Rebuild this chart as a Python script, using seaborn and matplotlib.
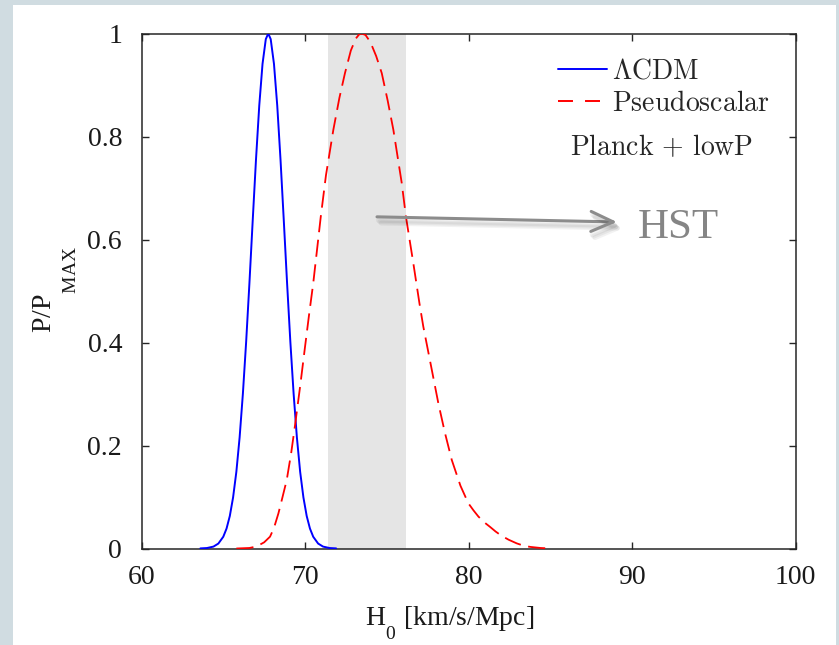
import numpy as np
import pandas as pd
import matplotlib
matplotlib.use("Agg")
import matplotlib.pyplot as plt
import matplotlib.patheffects as pe
from matplotlib.patches import Rectangle
from matplotlib.font_manager import FontProperties
import seaborn as sns

# ---------------- data ----------------
lcdm_h0 = [63.6, 64.0, 64.4, 64.7, 65.0, 65.2, 65.4, 65.6, 65.8, 66.0, 66.2, 66.4, 66.6,
           66.8, 67.0, 67.2, 67.4, 67.6, 67.75, 67.9, 68.1, 68.3, 68.5, 68.7, 68.9,
           69.1, 69.3, 69.5, 69.7, 69.9, 70.1, 70.3, 70.5, 70.8, 71.1, 71.5, 71.9]
lcdm_p = [0.0002, 0.0009, 0.0037, 0.0096, 0.0228, 0.0387, 0.0632, 0.0992, 0.149, 0.216,
          0.301, 0.402, 0.516, 0.637, 0.755, 0.860, 0.941, 0.989, 1.0, 0.989, 0.941,
          0.860, 0.755, 0.637, 0.516, 0.402, 0.301, 0.216, 0.149, 0.0992, 0.0632,
          0.0387, 0.0228, 0.0096, 0.0037, 0.0009, 0.0002]

ps_h0 = [65.8, 66.6, 67.04, 67.5, 67.86, 68.1, 68.37, 68.6, 68.88, 69.15, 69.39, 69.7,
         70.0, 70.25, 70.5, 70.75, 70.96, 71.28, 71.73, 72.1, 72.44, 72.8, 73.1, 73.3,
         73.46, 73.7, 74.0, 74.35, 74.69, 75.05, 75.4, 75.91, 76.17, 76.62, 77.0, 77.23,
         77.7, 78.15, 78.55, 78.97, 79.5, 79.98, 80.3, 80.6, 80.95, 81.31, 81.65, 82.0,
         82.45, 82.94, 83.4, 83.8, 84.4, 85.0]
ps_p = [0.0, 0.001, 0.004, 0.012, 0.023, 0.040, 0.068, 0.097, 0.133, 0.185, 0.240, 0.315,
        0.392, 0.455, 0.515, 0.585, 0.644, 0.725, 0.813, 0.875, 0.923, 0.967, 0.990, 0.998,
        1.0, 0.997, 0.983, 0.956, 0.923, 0.870, 0.813, 0.710, 0.644, 0.554, 0.475, 0.431,
        0.355, 0.282, 0.225, 0.172, 0.122, 0.088, 0.074, 0.062, 0.051, 0.042, 0.033, 0.025,
        0.017, 0.010, 0.005, 0.003, 0.001, 0.0]

hst_band = [71.4, 76.2]
series_labels = [r"$\Lambda\mathrm{CDM}$", r"$\mathrm{Pseudoscalar}$"]
note_text = r"$\mathrm{Planck}\,+\,\mathrm{lowP}$"
x_ticks = [60, 70, 80, 90, 100]
y_ticks = [0, 0.2, 0.4, 0.6, 0.8, 1.0]
y_tick_labels = ["0", "0.2", "0.4", "0.6", "0.8", "1"]

df_l = pd.DataFrame({"H0": lcdm_h0, "P": lcdm_p})
df_p = pd.DataFrame({"H0": ps_h0, "P": ps_p})

# deeper subscripts (MATLAB-like) for the axis labels
try:
    import matplotlib._mathtext as _mt
    _mt.ComputerModernFontConstants.sub1 = 1.1   # y label (cm math set)
    _mt.STIXFontConstants.sub1 = 1.2             # x label (stix math set)
except Exception:
    pass

# ---------------- style ----------------
sns.set_style("ticks")
plt.rcParams["font.family"] = ["Liberation Serif", "DejaVu Serif"]
plt.rcParams["mathtext.fontset"] = "cm"

fig = plt.figure(figsize=(8.39, 6.45), dpi=100, facecolor="#d0dce1")
fig.patches.append(Rectangle((13 / 839, 0), (835.7 - 13) / 839, 640 / 645,
                             transform=fig.transFigure, facecolor="white",
                             edgecolor="none", zorder=-10))
ax = fig.add_axes([141.5 / 839, 96.5 / 645, 654.2 / 839, 515 / 645])
ax.set_zorder(5)
ax.set_facecolor("white")

ax.axvspan(hst_band[0], hst_band[1], color="#e5e5e5", lw=0, zorder=0)

sns.lineplot(data=df_l, x="H0", y="P", ax=ax, color="#0000ff", lw=1.4,
             sort=False, estimator=None, zorder=3)
sns.lineplot(data=df_p, x="H0", y="P", ax=ax, color="#ff0000", lw=1.3,
             sort=False, estimator=None, zorder=3)
l_line, p_line = ax.lines[-2], ax.lines[-1]
p_line.set_dashes([9.5, 4.2])

ax.set_xlim(60, 100)
ax.set_ylim(0, 1)
ax.set_xticks(x_ticks)
ax.set_xticklabels([str(v) for v in x_ticks])
ax.set_yticks(y_ticks)
ax.set_yticklabels(y_tick_labels)

for s in ax.spines.values():
    s.set_visible(True)
    s.set_color("#262626")
    s.set_linewidth(1.1)
ax.tick_params(axis="both", direction="in", top=True, right=True, length=5,
               width=1.0, color="#262626", labelsize=20, labelcolor="#1a1a1a")
ax.tick_params(axis="x", pad=12)
ax.tick_params(axis="y", pad=14)

ax.set_xlabel(r"H$_{\mathregular{0}}$ [km/s/Mpc]", fontsize=20, color="#1a1a1a",
              math_fontfamily="stix")
ax.xaxis.set_label_coords((450 - 141.5) / 654.2, (548.5 - 605) / 515)
ax.set_ylabel(r"P/P$_{\mathregular{MAX}}$", fontsize=20, color="#1a1a1a",
              math_fontfamily="cm")
ax.yaxis.set_label_coords((79 - 141.5) / 654.2, (548.5 - 290) / 515)

# legend
handles = [l_line, p_line]
leg = ax.legend(handles, series_labels, loc="upper left",
                bbox_to_anchor=((558 - 141.5) / 654.2, (548.5 - 59) / 515),
                frameon=False, prop=FontProperties(size=20, math_fontfamily="cm"),
                handlelength=1.76, handletextpad=0.2, borderpad=0, borderaxespad=0,
                labelspacing=0.25)
for lh in leg.get_lines():
    lh.set_linewidth(1.4)
leg.get_lines()[1].set_dashes([7.7, 6.2])

ax.text((570 - 141.5) / 654.2, (548.5 - 155) / 515, note_text, transform=ax.transAxes,
        fontsize=20, math_fontfamily="cm", ha="left", va="baseline")

# HST arrow + label
shadow = [pe.SimpleLineShadow(offset=(o, -o - 1.5), shadow_color="k", alpha=0.05,
                              linewidth=3.5) for o in (1.0, 2.0, 3.0)]
ax.annotate("", xy=(89.07, 0.634), xytext=(74.4, 0.644),
            arrowprops=dict(arrowstyle="->,head_length=0.8,head_width=0.36",
                            color="#8c8c8c", lw=2.2, mutation_scale=20,
                            shrinkA=0, shrinkB=0,
                            path_effects=shadow + [pe.Normal()]),
            zorder=4)
ax.text(90.37, 0.602, "HST", fontsize=31, color="#858585", ha="left", va="baseline",
        zorder=4)

fig.savefig("out.png", dpi=100, facecolor=fig.get_facecolor())
